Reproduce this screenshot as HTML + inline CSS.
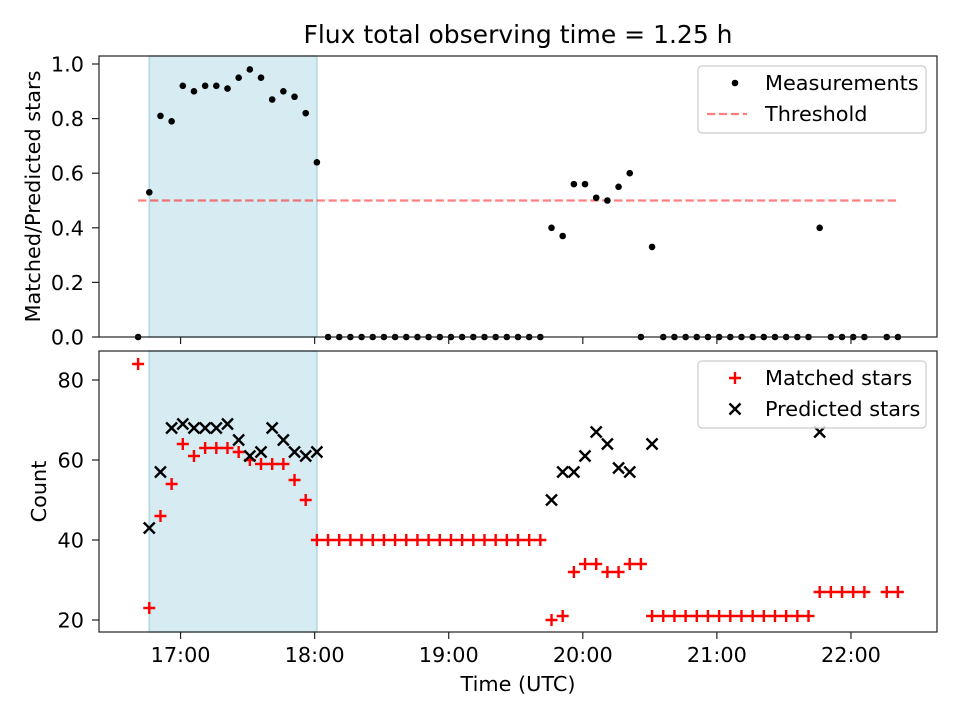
<!DOCTYPE html>
<html><head><meta charset="utf-8"><style>
body{margin:0;background:#fff;}
svg{display:block;font-family:"DejaVu Sans","Liberation Sans",sans-serif;}
</style></head><body>
<svg id="chart" width="960" height="720" viewBox="0 0 960 720" xmlns="http://www.w3.org/2000/svg"></svg>
<script>
// time index k -> minutes after 16:41 (5-min cadence)
const ratioIdx = [0,1,2,3,4,5,6,7,8,9,10,11,12,13,14,15,16,17,18,19,20,21,22,23,24,25,26,27,28,29,30,31,32,33,34,35,36,37,38,39,40,41,42,43,44,45,46,47,48,49,50,51,52,53,54,55,56,57,58,59,60,61,62,63,64,65,67,68];
const ratioVals = [0,0.53,0.81,0.79,0.92,0.90,0.92,0.92,0.91,0.95,0.98,0.95,0.87,0.90,0.88,0.82,0.64,0,0,0,0,0,0,0,0,0,0,0,0,0,0,0,0,0,0,0,0,0.40,0.37,0.56,0.56,0.51,0.50,0.55,0.60,0,0.33,0,0,0,0,0,0,0,0,0,0,0,0,0,0,0.40,0,0,0,0,0,0];
const matchedIdx = ratioIdx;
const matchedVals = [84,23,46,54,64,61,63,63,63,62,60,59,59,59,55,50,40,40,40,40,40,40,40,40,40,40,40,40,40,40,40,40,40,40,40,40,40,20,21,32,34,34,32,32,34,34,21,21,21,21,21,21,21,21,21,21,21,21,21,21,21,27,27,27,27,27,27,27];
const predIdx = [1,2,3,4,5,6,7,8,9,10,11,12,13,14,15,16,37,38,39,40,41,42,43,44,46,61];
const predVals = [43,57,68,69,68,68,68,69,65,61,62,68,65,62,61,62,50,57,57,61,67,64,58,57,64,67];
const xTickLabels = ["17:00","18:00","19:00","20:00","21:00","22:00"];
const xTickMinutes = [19,79,139,199,259,319]; // minutes after 16:41
const topTicks = [0,0.2,0.4,0.6,0.8,1.0];
const botTicks = [20,40,60,80];
const shadeRange = [1,16];
const threshold = 0.5;

const NS="http://www.w3.org/2000/svg";
const svg=document.getElementById('chart');
function el(tag,attrs,parent){const e=document.createElementNS(NS,tag);for(const k in attrs)e.setAttribute(k,attrs[k]);(parent||svg).appendChild(e);return e;}
const L=99,R=937;
const tMin=-17.5, tMax=357.5;
const xs=m=>L+(m-tMin)/(tMax-tMin)*(R-L);
const xk=k=>xs(k*5);
const T0=56,T1=337, yTop=v=>T1-(v-0)/(1.0293)*(T1-T0);
const B0=351,B1=632, yBot=v=>B1-(v-17)/(87.25-17)*(B1-B0);
const FS=20.8;

const title=el('text',{x:518,y:43,'text-anchor':'middle','font-size':25});
title.textContent='Flux total observing time = 1.25 h';



function panel(top,bot,name){
  const g=el('g',{});
  
  
  const sh=el('rect',{x:xk(shadeRange[0]),y:top,width:xk(shadeRange[1])-xk(shadeRange[0]),height:bot-top,fill:'#add8e6','fill-opacity':0.5,stroke:'#add8e6','stroke-width':1.5},g);
  
  
  return g;
}
function frame(top,bot,name){
  const f=el('rect',{x:L,y:top,width:R-L,height:bot-top,fill:'none',stroke:'#222','stroke-width':1.2});
  
  
  xTickMinutes.forEach((m,i)=>{
    const t=el('line',{x1:xs(m),x2:xs(m),y1:bot,y2:bot+7,stroke:'#222','stroke-width':1.2});
    
    
  });
}
const gt=panel(T0,T1,'top-panel');
const thr=el('line',{x1:xk(0),x2:xk(68),y1:yTop(threshold),y2:yTop(threshold),stroke:'#ff0000','stroke-opacity':0.5,'stroke-width':2.2,'stroke-dasharray':'8.3,3.6'},gt);


ratioIdx.forEach((k,i)=>{
  const c=el('circle',{cx:xk(k),cy:yTop(ratioVals[i]),r:3.3,fill:'#000'},gt);
  
  
});
frame(T0,T1,'top-axes');
topTicks.forEach(v=>{
  el('line',{x1:L-7,x2:L,y1:yTop(v),y2:yTop(v),stroke:'#222','stroke-width':1.2});
  const t=el('text',{x:L-15,y:yTop(v)+7.5,'text-anchor':'end','font-size':FS});
  t.textContent=v.toFixed(1);
  
  
});
const yl1=el('text',{transform:`translate(40,${(T0+T1)/2}) rotate(-90)`,'text-anchor':'middle','font-size':FS});
yl1.textContent='Matched/Predicted stars';



const gb=panel(B0,B1,'bottom-panel');
matchedIdx.forEach((k,i)=>{
  const x=xk(k),y=yBot(matchedVals[i]);
  const p=el('path',{d:`M${x-6},${y}H${x+6}M${x},${y-6}V${y+6}`,stroke:'#ff0000','stroke-width':2.4},gb);
  
  
});
predIdx.forEach((k,i)=>{
  const x=xk(k),y=yBot(predVals[i]);
  const p=el('path',{d:`M${x-5.5},${y-5.5}L${x+5.5},${y+5.5}M${x-5.5},${y+5.5}L${x+5.5},${y-5.5}`,stroke:'#000','stroke-width':2.4},gb);
  
  
});
frame(B0,B1,'bottom-axes');
botTicks.forEach(v=>{
  el('line',{x1:L-7,x2:L,y1:yBot(v),y2:yBot(v),stroke:'#222','stroke-width':1.2});
  const t=el('text',{x:L-15,y:yBot(v)+7.5,'text-anchor':'end','font-size':FS});
  t.textContent=v;
  
  
});
xTickMinutes.forEach((m,i)=>{
  const t=el('text',{x:xs(m),y:B1+30,'text-anchor':'middle','font-size':FS});
  t.textContent=xTickLabels[i];
  
  
});
const yl2=el('text',{transform:`translate(46,${(B0+B1)/2}) rotate(-90)`,'text-anchor':'middle','font-size':FS});
yl2.textContent='Count';


const xl=el('text',{x:518,y:691,'text-anchor':'middle','font-size':FS});
xl.textContent='Time (UTC)';



function legend(y,name,items){
  const g=el('g',{});
  
  
  el('rect',{x:698,y:y,width:228,height:67,rx:4,fill:'#fff','fill-opacity':0.8,stroke:'#ccc','stroke-width':1.2},g);
  items.forEach((it,i)=>{
    const cy=y+17+i*31;
    const e=el('g',{},g);
    
    
    it.draw(e,735,cy);
    const t=el('text',{x:765,y:cy+7,'font-size':FS},e);
    t.textContent=it.label;
  });
}
legend(66,'top-legend',[
  {label:'Measurements',draw:(g,x,y)=>el('circle',{cx:x,cy:y,r:3.3,fill:'#000'},g)},
  {label:'Threshold',draw:(g,x,y)=>el('line',{x1:x-28,x2:x+12,y1:y,y2:y,stroke:'#ff0000','stroke-opacity':0.5,'stroke-width':2.2,'stroke-dasharray':'8.3,3.6'},g)}
]);
legend(361,'bottom-legend',[
  {label:'Matched stars',draw:(g,x,y)=>el('path',{d:`M${x-6},${y}H${x+6}M${x},${y-6}V${y+6}`,stroke:'#ff0000','stroke-width':2.4},g)},
  {label:'Predicted stars',draw:(g,x,y)=>el('path',{d:`M${x-5.5},${y-5.5}L${x+5.5},${y+5.5}M${x-5.5},${y+5.5}L${x+5.5},${y-5.5}`,stroke:'#000','stroke-width':2.4},g)}
]);
</script>
</body></html>
